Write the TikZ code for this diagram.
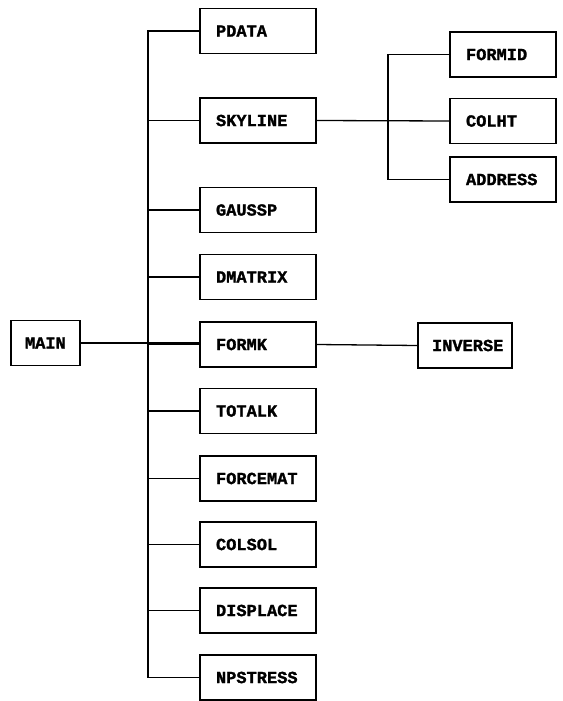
\documentclass[tikz,border=0pt]{standalone}
\usepackage{fontspec}
\setmonofont{Liberation Mono}[BoldFeatures={FakeBold=1.5}]
\usetikzlibrary{positioning}

\begin{document}
\begin{tikzpicture}[x=1pt, y=-1pt, line width=1.3pt, auto]
	% Define styles
	\tikzset{modbox/.style={rectangle, draw, line width=1.4pt, minimum height=45pt, inner xsep=16pt, text width=#1, align=left,
			font=\ttfamily\bfseries\fontsize{17}{17}\selectfont},
		modbox/.default=84pt}
	\useasboundingbox (0,0) rectangle (562,701);

	% Nodes
	\node[modbox=41pt, inner xsep=14pt] (main) at (45.5,343) {MAIN};
	\node[modbox] (pdata) at (258,31) {PDATA};
	\node[modbox, below of=pdata, node distance=89.5pt] (skyline) {SKYLINE};
	\node[modbox, below of=skyline, node distance=89.5pt] (gaussp) {GAUSSP};
	\node[modbox, below of=gaussp, node distance=67pt] (dmatrix) {DMATRIX};
	\node[modbox, below of=dmatrix, node distance=67.5pt] (formk) {FORMK};
	\node[modbox, below of=formk, node distance=66.5pt] (totalk) {TOTALK};
	\node[modbox, below of=totalk, node distance=67.5pt] (forcemat) {FORCEMAT};
	\node[modbox, below of=forcemat, node distance=66pt] (colsol) {COLSOL};
	\node[modbox, below of=colsol, node distance=66pt] (displace) {DISPLACE};
	\node[modbox, below of=displace, node distance=67pt] (npstress) {NPSTRESS};

	\node[modbox=74pt] (colht) at (503,121) {COLHT};
	\node[modbox=74pt, above of=colht, node distance=66.5pt] (formid) {FORMID};
	\node[modbox=74pt, below of=colht, node distance=58.5pt] (address) {ADDRESS};
	\node[modbox=66pt, inner xsep=14pt] (inverse) at (465,345.5) {INVERSE};

	\coordinate (bus) at (148,0);
	\coordinate (subbus) at (388,0);

	% Lines
	\draw (main.east) -- (main.east -| formk.west);
	\draw (pdata.west) -- (pdata.west -| bus) -- (npstress.west -| bus) -- (npstress.west);
	\foreach \n in {skyline,gaussp,dmatrix,formk,totalk,forcemat,colsol,displace}
		\draw (\n.west) -- (\n.west -| bus);
	\draw (skyline.east) -- (colht.west);
	\draw (formid.west) -- (formid.west -| subbus) -- (address.west -| subbus) -- (address.west);
	\draw (formk.east) -- (inverse.west);
\end{tikzpicture}
\end{document}
